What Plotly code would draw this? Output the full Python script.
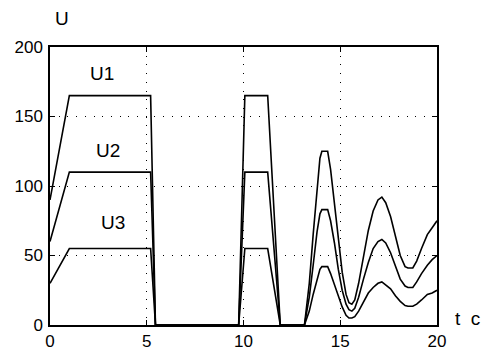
import plotly.graph_objects as go

t = [0.0, 1.0, 5.2, 5.45, 9.75, 10.07, 11.25, 11.9, 13.15, 13.4, 13.6, 13.8, 13.95, 14.05,
     14.35, 14.5, 14.7, 14.9, 15.1, 15.3, 15.45, 15.6, 15.75, 15.95, 16.2, 16.45, 16.7,
     16.95, 17.15, 17.35, 17.6, 17.85, 18.1, 18.35, 18.5, 18.75, 18.95, 19.2, 19.5, 19.75, 20.0]
u1 = [90, 165, 165, 0, 0, 165, 165, 0, 0, 30, 65, 100, 120, 125,
      125, 112, 88, 60, 38, 22, 16, 15, 18, 30, 50, 68, 82,
      90, 92, 88, 78, 64, 50, 42, 41, 41, 46, 55, 65, 70, 75]
u2 = [60, 110, 110, 0, 0, 110, 110, 0, 0, 20, 43, 67, 80, 83,
      83, 75, 59, 40, 25, 15, 11, 10, 12, 20, 33, 45, 55,
      60, 61.5, 59, 52, 43, 33, 28, 27, 27, 31, 37, 43, 47, 50]
u3 = [30, 55, 55, 0, 0, 55, 55, 0, 0, 10, 22, 33, 40, 42,
      42, 37, 29, 20, 13, 7, 5, 5, 6, 10, 17, 23, 27,
      30, 31, 29, 26, 21, 17, 14, 13.5, 13.5, 15, 18, 22, 23, 25]
series = [("U1", u1), ("U2", u2), ("U3", u3)]

xticks = [0, 5, 10, 15, 20]
yticks = [0, 50, 100, 150, 200]

fig = go.Figure()
for name, ys in series:
    fig.add_trace(go.Scatter(x=t, y=ys, mode="lines", name=name,
                             line=dict(color="black", width=1.6), showlegend=False))

font = dict(family="Liberation Sans, Arial, sans-serif", size=17, color="black")
axis_common = dict(showline=True, linecolor="black", linewidth=1.5, mirror="ticks",
                   ticks="inside", ticklen=5, tickcolor="black", tickwidth=1,
                   showgrid=True, gridcolor="black", gridwidth=1, griddash="1px,7.7px",
                   zeroline=False, tickfont=font, automargin=False)
fig.update_xaxes(range=[0, 20], tickvals=xticks, ticktext=[str(v) for v in xticks],
                 **axis_common)
fig.update_yaxes(range=[0, 200], tickvals=yticks, ticktext=[str(v) for v in yticks],
                 ticklabelstandoff=2, **axis_common)

labels = [("U", 0.031, 1.104), ("U1", 0.134, 0.906), ("U2", 0.151, 0.626),
          ("U3", 0.163, 0.367), ("t  c", 1.079, 0.022)]
for txt, ax, ay in labels:
    fig.add_annotation(text=txt, x=ax, y=ay, xref="paper", yref="paper",
                       showarrow=False, font=dict(family="Liberation Sans, Arial, sans-serif",
                                                  size=19, color="black"),
                       xanchor="center", yanchor="middle")

fig.update_layout(width=483, height=351, margin=dict(l=50, r=45.5, t=47, b=26),
                  plot_bgcolor="white", paper_bgcolor="white")
fig.write_html("out.html")
